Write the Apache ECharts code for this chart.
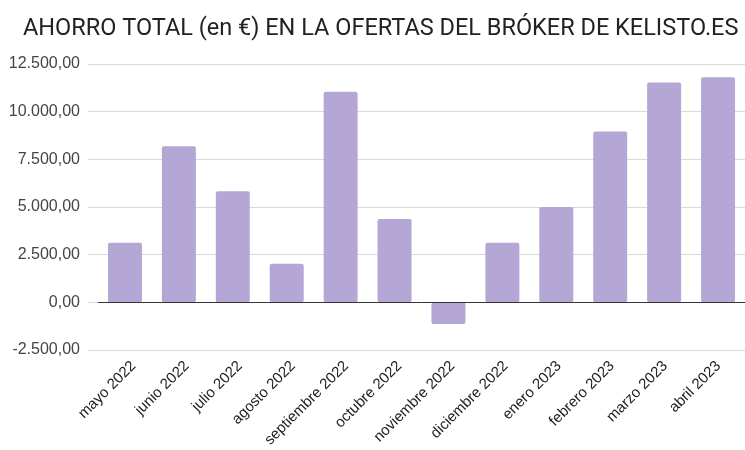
<!DOCTYPE html>
<html><head><meta charset="utf-8">
<script src="https://cdn.jsdelivr.net/npm/echarts@6/dist/echarts.min.js"></script>
<style>html,body{margin:0;padding:0;background:#fff}#c{width:745px;height:450px}</style>
</head><body><div id="c"></div>
<script>
const categories = ['mayo 2022','junio 2022','julio 2022','agosto 2022','septiembre 2022','octubre 2022','noviembre 2022','diciembre 2022','enero 2023','febrero 2023','marzo 2023','abril 2023'];
const ahorro = [3130, 8190, 5830, 2030, 11045, 4375, -1140, 3130, 5000, 8960, 11535, 11800];
const yTicks = [-2500, 0, 2500, 5000, 7500, 10000, 12500];
const titleText = 'AHORRO TOTAL (en €) EN LA OFERTAS DEL BRÓKER DE KELISTO.ES';

function fmt(v){
  const neg = v < 0; v = Math.abs(v);
  const s = Math.round(v).toString().replace(/\B(?=(\d{3})+(?!\d))/g, '.');
  return (neg ? '-' : '') + s + ',00';
}
const yMin = yTicks[0], yMax = yTicks[yTicks.length-1], yInt = yTicks[1]-yTicks[0];
const chart = echarts.init(document.getElementById('c'));
chart.setOption({
  animation: false,
  title: { text: titleText, left: 18, top: 12, textStyle: { fontFamily: 'Roboto', fontSize: 23.5, fontWeight: 'normal', color: '#222' } },
  grid: [
    { left: 98, right: 0, top: 64, bottom: 100 },
    { left: 88, right: 0, top: 64, bottom: 100 },
    { left: 107, right: -9, top: 64, bottom: 100 }
  ],
  xAxis: [
    { type: 'category', gridIndex: 0, data: categories, show: false },
    { type: 'category', gridIndex: 1, data: categories, show: false },
    { type: 'category', gridIndex: 2, data: categories,
      axisLine: { show: false }, axisTick: { show: false },
      axisLabel: { rotate: 45, margin: 18, interval: 0, fontFamily: 'Liberation Sans', fontSize: 15, color: '#222' } }
  ],
  yAxis: [
    { type: 'value', gridIndex: 0, min: yMin, max: yMax, interval: yInt, show: false, splitLine: { show: false } },
    { type: 'value', gridIndex: 1, min: yMin, max: yMax, interval: yInt,
      axisLine: { show: false }, axisTick: { show: false },
      axisLabel: { formatter: fmt, margin: 8, fontFamily: 'Liberation Sans', fontSize: 16, color: '#444' },
      splitLine: { lineStyle: { color: '#d9d9d9', width: 1 } } },
    { type: 'value', gridIndex: 2, min: yMin, max: yMax, interval: yInt, show: false, splitLine: { show: false } }
  ],
  series: [{
    type: 'bar', xAxisIndex: 0, yAxisIndex: 0, data: ahorro, barWidth: 34,
    itemStyle: { color: '#b4a7d6', borderRadius: 2 },
    markLine: { silent: true, symbol: 'none', label: { show: false },
      lineStyle: { color: '#333', type: 'solid', width: 1 }, data: [{ yAxis: 0 }] }
  }]
});
</script></body></html>
